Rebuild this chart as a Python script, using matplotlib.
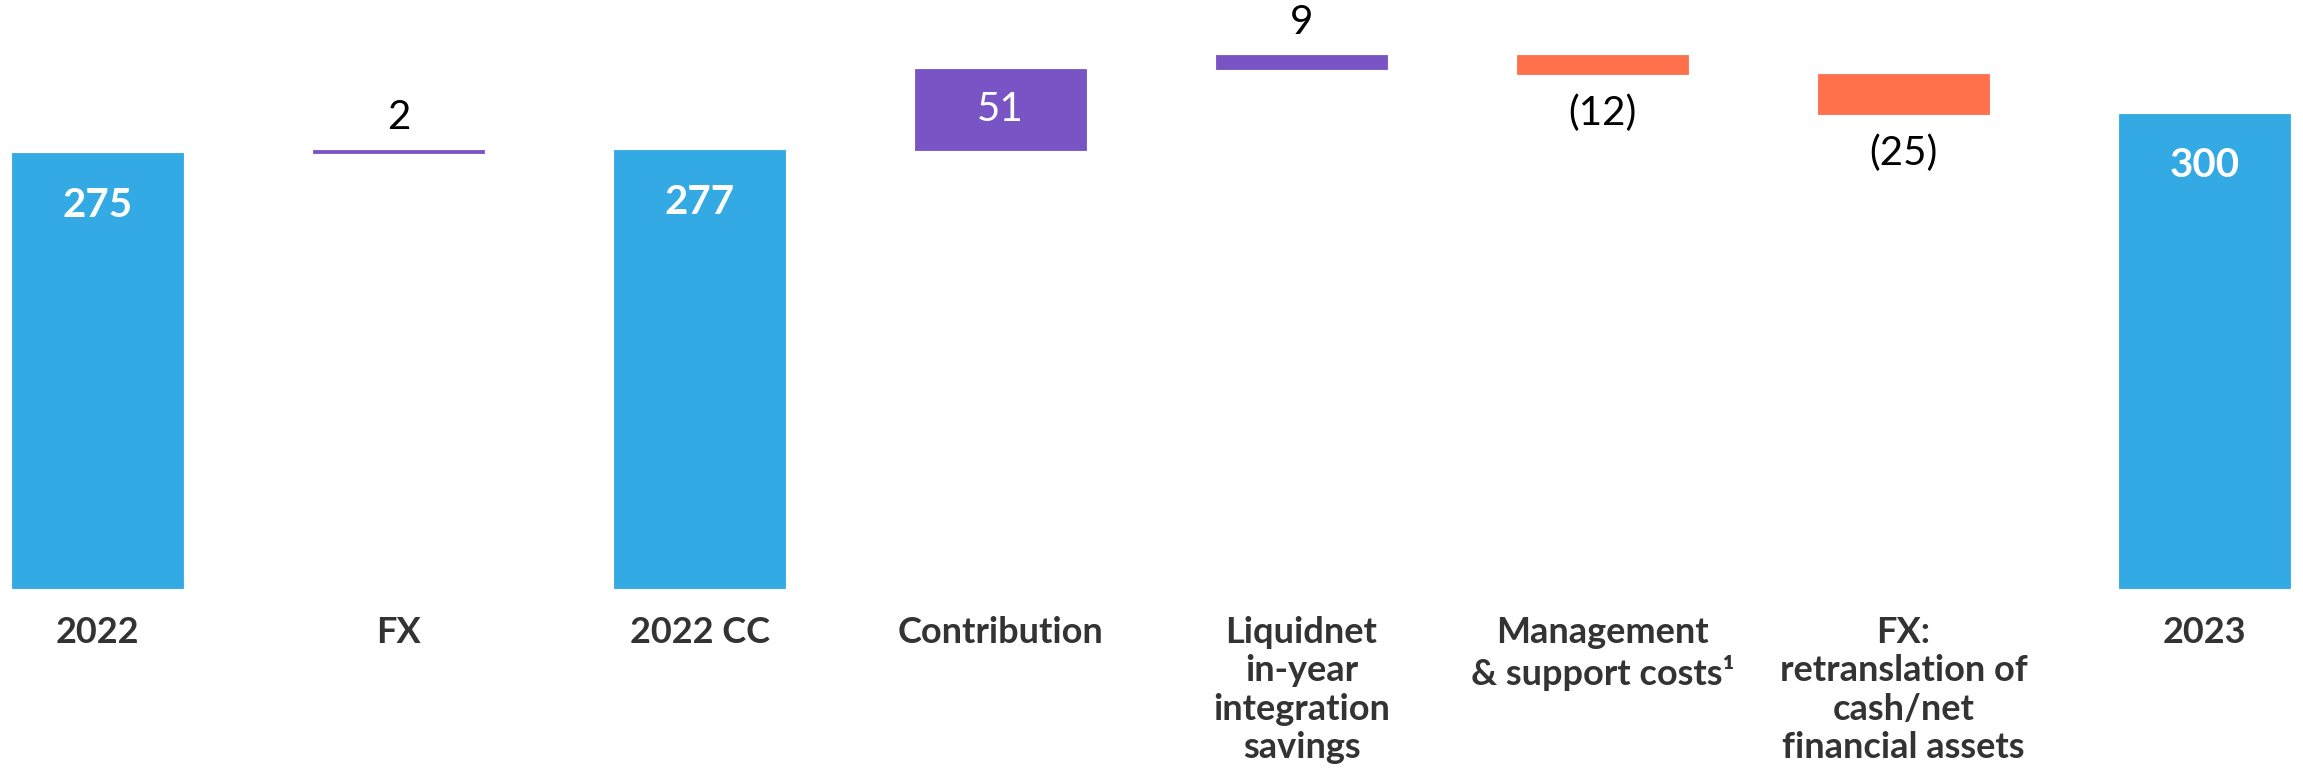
import matplotlib
matplotlib.use("Agg")
import matplotlib.pyplot as plt

plt.rcParams['font.family'] = ['Lato', 'DejaVu Sans']

categories = ['2022', 'FX', '2022 CC', 'Contribution',
              'Liquidnet\nin-year\nintegration\nsavings',
              'Management\n& support costs\u00b9',
              'FX:\nretranslation of\ncash/net\nfinancial assets',
              '2023']
values = [275, 2, 277, 51, 9, -12, -25, 300]
kinds = ['total', 'delta', 'total', 'delta', 'delta', 'delta', 'delta', 'total']

BLUE = '#33AAE3'
PURPLE = '#7854C4'
ORANGE = '#FF704D'
TEXT = '#333333'

fig = plt.figure(figsize=(23.03, 7.71), dpi=100)
ax = fig.add_axes([0, 0, 1, 1])

x = list(range(len(categories)))
bottoms, heights, colors = [], [], []
running = 0
for v, k in zip(values, kinds):
    if k == 'total':
        bottoms.append(0)
        heights.append(v)
        colors.append(BLUE)
        running = v
    else:
        if v >= 0:
            bottoms.append(running)
            heights.append(v)
            colors.append(PURPLE)
        else:
            bottoms.append(running + v)
            heights.append(-v)
            colors.append(ORANGE)
        running += v

ax.bar(x, heights, bottom=bottoms, width=0.568, color=colors,
       edgecolor=colors, linewidth=0.6)

for xi, v, k, b, h in zip(x, values, kinds, bottoms, heights):
    top = b + h
    if k == 'total':
        ax.annotate(f'{v}', (xi, top), xytext=(0, -37.5), textcoords='offset points',
                    ha='center', va='center', color='white', fontsize=29,
                    fontweight='bold')
    elif v >= 0 and h >= 30:
        ax.text(xi, b + h / 2, f'{v}', ha='center', va='center', color='white',
                fontsize=29)
    elif v >= 0:
        ax.annotate(f'{v}', (xi, top), xytext=(0, 23.5), textcoords='offset points',
                    ha='center', va='center', color='black', fontsize=29)
    else:
        ax.annotate(f'({-v})', (xi, b), xytext=(0, -28.5), textcoords='offset points',
                    ha='center', va='center', color='black', fontsize=29)

for xi, c in zip(x, categories):
    ax.annotate(c, (xi, 0), xytext=(0, -20), textcoords='offset points',
                ha='center', va='top', multialignment='center', color=TEXT,
                fontsize=26, fontweight='bold', linespacing=1.19)

ax.set_xlim(-0.324, 7.327)
ax.set_ylim(-115.3, 371.8)
ax.set_xticks([])
ax.set_yticks([])
for s in ax.spines.values():
    s.set_visible(False)

fig.savefig('out.png', dpi=100)
